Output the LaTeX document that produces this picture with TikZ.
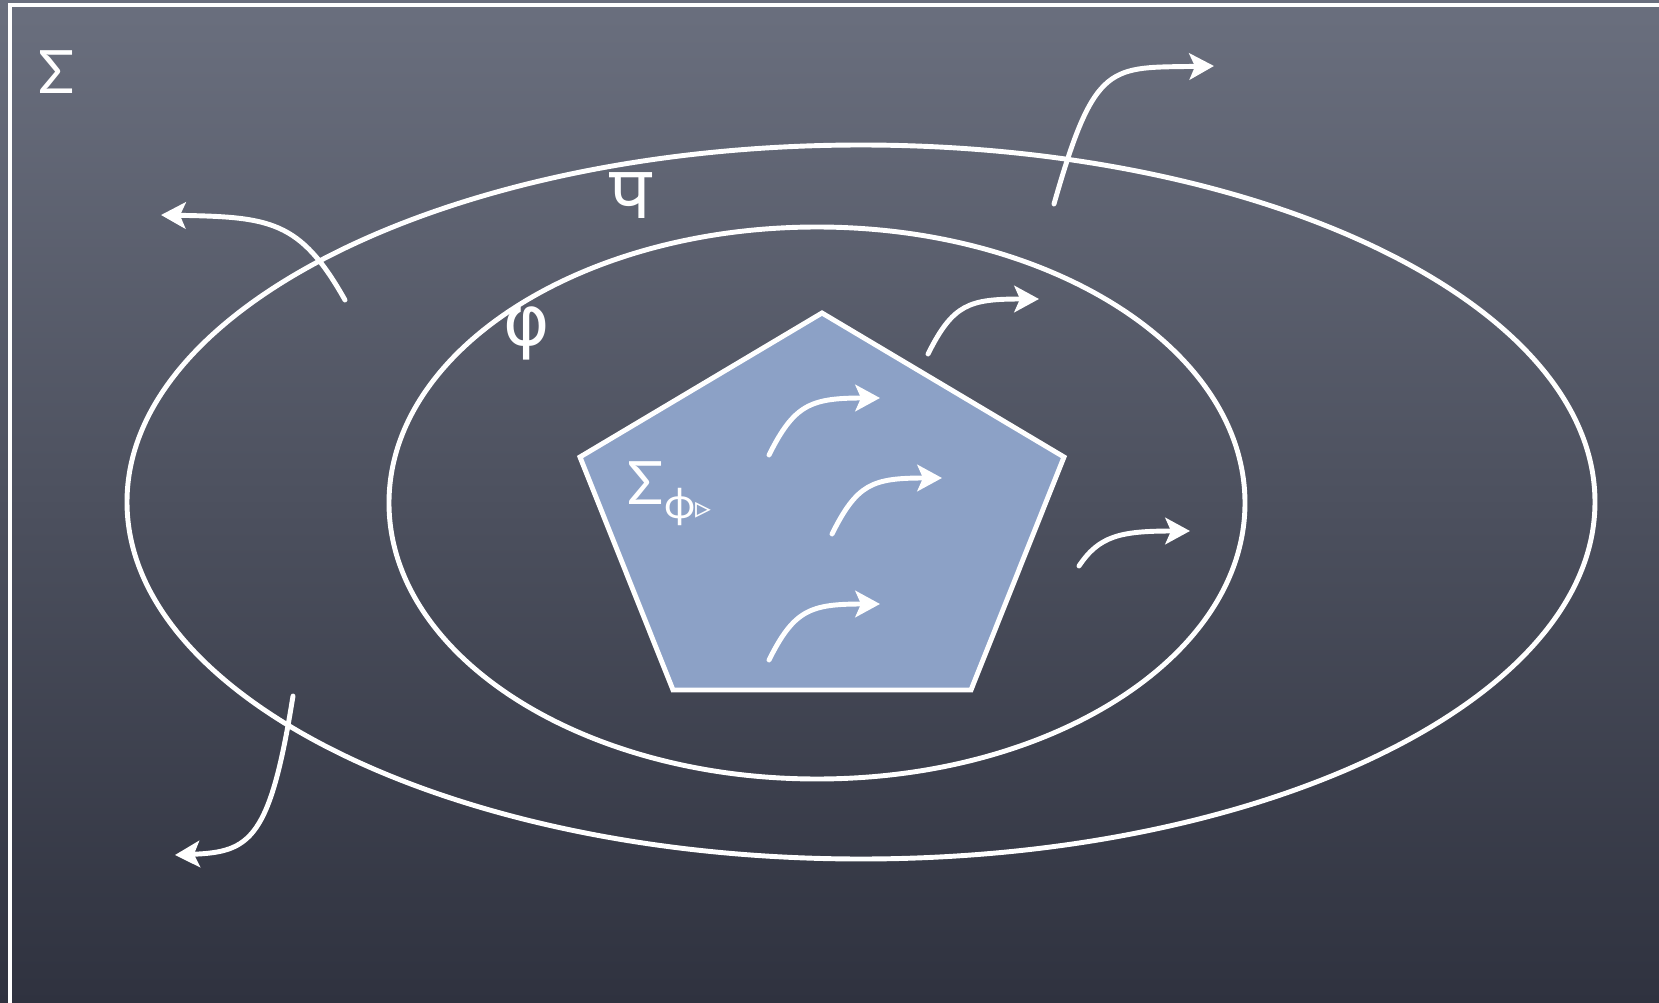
\documentclass[tikz,border=0pt]{standalone}
\usepackage{fontspec}
\setmainfont{Lato}
\newfontfamily\devafont[Script=Devanagari]{Noto Sans}
\newfontfamily\symfont{DejaVu Sans}
\usetikzlibrary{calc}
\usetikzlibrary{arrows.meta}
\definecolor{boardTop}{HTML}{6A6F7E}
\definecolor{boardBot}{HTML}{2F323F}
\definecolor{regionFill}{HTML}{8CA1C6}

\begin{document}
\begin{tikzpicture}[x=0.01cm, y=-0.01cm, >={Stealth[length=7pt, width=7.5pt, inset=1.6pt]},
	every node/.style={text=white, font=\fontsize{17}{20}\selectfont}]
	\tikzset{chalk/.style={draw=white, line width=1.4pt},
		flow/.style={chalk, ->, line cap=round}}
	\useasboundingbox (0,0) rectangle (1659,1003);
	\fill[top color=boardTop, bottom color=boardBot] (0,0) rectangle (1659,1003);
	\begin{scope}
		\clip (0,0) rectangle (1659,1003);
		\draw[chalk] (10,5) rectangle (1700,1050);
	\end{scope}
	% formulas
	\draw[chalk] (861,502) ellipse [x radius=734, y radius=357];
	\draw[chalk] (817,503) ellipse [x radius=428, y radius=276];
	\draw[chalk, fill=regionFill] (822,313) -- (1064,457) -- (971,690) -- (673,690) -- (580,457) -- cycle;
	% labels
	\node (sigma) at (57,72) {Σ};
	\node (psi) at (630,196) {\devafont\fontsize{21}{24}\selectfont प};
	\node (phi) at (527,333) {\symfont\fontsize{20}{24}\selectfont φ};
	\node[anchor=west, inner sep=0pt] (models) at (627,494) {Σ\raisebox{-0.45ex}{\fontsize{12}{14}\selectfont ϕ\symfont\fontsize{9}{10}\selectfont ▹}};
	% arrow end points
	\coordinate (a1s) at (1054,204); \coordinate (a1e) at (1214,66);
	\coordinate (a2s) at (345,300);  \coordinate (a2e) at (161,215);
	\coordinate (a3s) at (293,696);  \coordinate (a3e) at (175,855);
	\coordinate (a4s) at (928,354);  \coordinate (a4e) at (1039,299);
	\coordinate (a5s) at (769,455);  \coordinate (a5e) at (880,398);
	\coordinate (a6s) at (832,534);  \coordinate (a6e) at (942,478);
	\coordinate (a7s) at (769,660);  \coordinate (a7e) at (880,604);
	\coordinate (a8s) at (1079,566); \coordinate (a8e) at (1190,531);
	\draw[flow] (a1s) .. controls (1095,60) and (1110,68) .. (a1e);
	\draw[flow] (a2s) .. controls (300,220) and (270,217) .. (a2e);
	\draw[flow] (a3s) .. controls (270,840) and (250,852) .. (a3e);
	\foreach \s/\e in {a4s/a4e, a5s/a5e, a6s/a6e, a7s/a7e}
		\draw[flow] (\s) .. controls ($(\s)+(25,-50)$) and ($(\e)+(-70,0)$) .. (\e);
	\draw[flow] (a8s) .. controls ($(a8s)+(20,-30)$) and ($(a8e)+(-70,0)$) .. (a8e);
\end{tikzpicture}
\end{document}
